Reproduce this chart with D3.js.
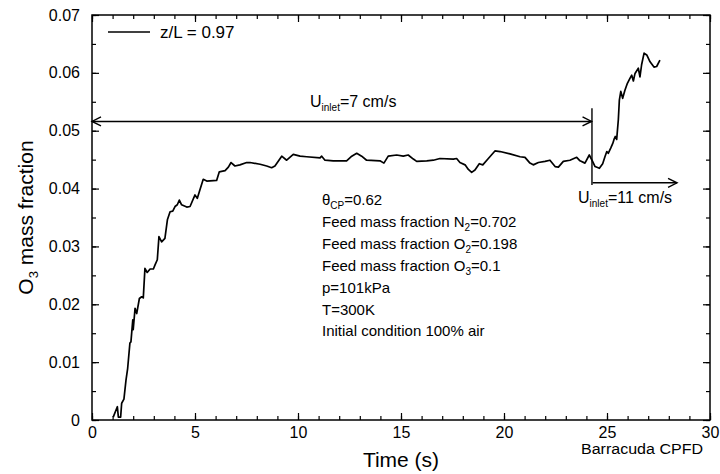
<!DOCTYPE html>
<html>
<head>
<meta charset="utf-8">
<script src="https://cdn.jsdelivr.net/npm/d3@7"></script>
<style>
  body { margin: 0; background: #fff; }
  svg { font-family: 'Liberation Sans', Arial, Helvetica, sans-serif; }
</style>
</head>
<body>
<div id="chart"></div>
<script>
// Time series (s, O3 mass fraction)
const times = [1.03, 1.23, 1.28, 1.39, 1.44, 1.55, 1.65, 1.73, 1.84, 1.89, 1.98, 2.00, 2.09, 2.17, 2.30,
  2.41, 2.49, 2.57, 2.68, 2.82, 2.98, 3.06, 3.17, 3.25, 3.38, 3.54, 3.66, 3.79, 3.92, 4.03,
  4.14, 4.24, 4.35, 4.60, 4.76, 5.00, 5.11, 5.24, 5.40, 5.57, 6.05, 6.18, 6.46, 6.62, 6.75,
  6.94, 7.18, 7.51, 7.67, 8.16, 8.48, 8.72, 8.88, 9.21, 9.45, 9.77, 10.10, 10.42, 11.07, 11.15,
  11.31, 11.71, 12.36, 12.61, 12.85, 13.09, 13.33, 13.98, 14.17, 14.38, 14.79, 15.11, 15.35, 15.60, 15.76,
  16.25, 16.57, 16.89, 17.54, 17.70, 17.86, 18.11, 18.27, 18.43, 18.59, 18.80, 18.97, 19.24, 19.56, 19.81,
  20.29, 20.78, 21.02, 21.26, 21.42, 21.67, 21.99, 22.23, 22.48, 22.64, 22.88, 23.20, 23.53, 23.69, 23.93,
  24.14, 24.30, 24.42, 24.63, 24.79, 24.90, 24.99, 25.06, 25.18, 25.28, 25.34, 25.40, 25.47, 25.55, 25.60,
  25.67, 25.76, 25.87, 25.99, 26.12, 26.20, 26.28, 26.36, 26.52, 26.60, 26.68, 26.80, 26.93, 27.09, 27.28,
  27.41, 27.57];
const o3 = [0.0005, 0.0023, 0.0005, 0.0005, 0.0029, 0.0036, 0.0069, 0.0089, 0.0133, 0.0135, 0.0173, 0.0156, 0.0193, 0.0184, 0.0210,
  0.0213, 0.0211, 0.0262, 0.0255, 0.0261, 0.0261, 0.0268, 0.0277, 0.0317, 0.0308, 0.0314, 0.0346, 0.0360, 0.0361, 0.0369,
  0.0372, 0.0380, 0.0372, 0.0368, 0.0369, 0.0389, 0.0383, 0.0398, 0.0416, 0.0413, 0.0414, 0.0429, 0.0431, 0.0437, 0.0445,
  0.0439, 0.0441, 0.0445, 0.0445, 0.0442, 0.0439, 0.0436, 0.0439, 0.0456, 0.0449, 0.0459, 0.0456, 0.0455, 0.0453, 0.0456,
  0.0449, 0.0448, 0.0448, 0.0456, 0.0461, 0.0456, 0.0449, 0.0448, 0.0444, 0.0456, 0.0458, 0.0456, 0.0458, 0.0451, 0.0447,
  0.0448, 0.0449, 0.0452, 0.0451, 0.0452, 0.0445, 0.0441, 0.0433, 0.0428, 0.0432, 0.0443, 0.0441, 0.0452, 0.0465, 0.0464,
  0.0460, 0.0455, 0.0454, 0.0444, 0.0441, 0.0445, 0.0447, 0.0449, 0.0438, 0.0437, 0.0447, 0.0449, 0.0454, 0.0448, 0.0444,
  0.0458, 0.0447, 0.0438, 0.0435, 0.0443, 0.0455, 0.0464, 0.0461, 0.0470, 0.0478, 0.0485, 0.0490, 0.0485, 0.0519, 0.0553,
  0.0568, 0.0556, 0.0570, 0.0582, 0.0591, 0.0596, 0.0586, 0.0599, 0.0608, 0.0593, 0.0614, 0.0634, 0.0631, 0.0619, 0.0610,
  0.0611, 0.0622];

// Axis ticks
const xTicks = [0, 5, 10, 15, 20, 25, 30];
const xMinor = d3.range(0, 31, 1);
const yTicks = [0, 0.01, 0.02, 0.03, 0.04, 0.05, 0.06, 0.07];
const yMinor = d3.range(0, 0.0701, 0.005);

// Annotations
const seriesName = 'z/L = 0.97';
const switchTime = 24.27;
const arrow7 = { t0: 0, t1: 24.25, v: 0.0516 };
const arrow11 = { t0: 24.3, t1: 28.4, v: 0.041 };
const switchLine = { v0: 0.0539, v1: 0.0406 };
const conditions = [
  ['θ', 'CP', '=0.62'],
  ['Feed mass fraction N', '2', '=0.702'],
  ['Feed mass fraction O', '2', '=0.198'],
  ['Feed mass fraction O', '3', '=0.1'],
  ['p=101kPa', '', ''],
  ['T=300K', '', ''],
  ['Initial condition 100% air', '', '']
];

//Chart dimensions
const margin = { top: 15, bot: 54, left: 92, right: 10 };
const width = 720 - margin.left - margin.right;
const height = 474 - margin.top - margin.bot;

// Scale
const xScale = d3.scaleLinear().domain([0, 30]).range([0, width]);
const yScale = d3.scaleLinear().domain([0, 0.07]).range([height, 0]);

const svg = d3.select('#chart').append('svg')
  .attr('width', 720)
  .attr('height', 474);

const defs = svg.append('defs');
defs.append('marker')
  .attr('id', 'head')
  .attr('viewBox', '-1 -6 12 12')
  .attr('refX', 9)
  .attr('refY', 0)
  .attr('markerWidth', 12)
  .attr('markerHeight', 12)
  .attr('markerUnits', 'userSpaceOnUse')
  .attr('orient', 'auto-start-reverse')
  .append('path')
  .attr('d', 'M0,-4.5L9,0L0,4.5')
  .attr('fill', 'none')
  .attr('stroke', '#000')
  .attr('stroke-width', 1.4);

const g = svg.append('g')
  .attr('transform', `translate(${margin.left}, ${margin.top})`);

// Axes (ticks pointing inward on all four sides)
const noLabel = () => '';
const yFormat = d => d === 0 ? '0' : d3.format('.2f')(d);

function styleAxis(sel) {
  sel.select('.domain').remove();
  sel.selectAll('line').attr('stroke', '#000').attr('stroke-width', 1.2);
  sel.selectAll('text').attr('fill', '#000').style('font-size', '16px');
}

g.append('g')
  .attr('transform', `translate(0, ${height})`)
  .call(d3.axisBottom(xScale).tickValues(xMinor).tickSizeInner(-4).tickSizeOuter(0).tickFormat(noLabel))
  .call(styleAxis);
g.append('g')
  .attr('transform', `translate(0, ${height})`)
  .call(d3.axisBottom(xScale).tickValues(xTicks).tickSizeInner(-7).tickSizeOuter(0).tickPadding(7).tickFormat(d3.format('d')))
  .call(styleAxis);
g.append('g')
  .call(d3.axisTop(xScale).tickValues(xMinor).tickSizeInner(-4).tickSizeOuter(0).tickFormat(noLabel))
  .call(styleAxis);
g.append('g')
  .call(d3.axisTop(xScale).tickValues(xTicks).tickSizeInner(-7).tickSizeOuter(0).tickFormat(noLabel))
  .call(styleAxis);

g.append('g')
  .call(d3.axisLeft(yScale).tickValues(yMinor).tickSizeInner(-4).tickSizeOuter(0).tickFormat(noLabel))
  .call(styleAxis);
g.append('g')
  .call(d3.axisLeft(yScale).tickValues(yTicks).tickSizeInner(-7).tickSizeOuter(0).tickPadding(12).tickFormat(yFormat))
  .call(styleAxis);
g.append('g')
  .attr('transform', `translate(${width}, 0)`)
  .call(d3.axisRight(yScale).tickValues(yMinor).tickSizeInner(-4).tickSizeOuter(0).tickFormat(noLabel))
  .call(styleAxis);
g.append('g')
  .attr('transform', `translate(${width}, 0)`)
  .call(d3.axisRight(yScale).tickValues(yTicks).tickSizeInner(-7).tickSizeOuter(0).tickFormat(noLabel))
  .call(styleAxis);

// Frame
g.append('rect')
  .attr('width', width)
  .attr('height', height)
  .attr('fill', 'none')
  .attr('stroke', '#000')
  .attr('stroke-width', 1.5);

// Axis titles
svg.append('text')
  .attr('x', margin.left + width / 2)
  .attr('y', 467)
  .attr('text-anchor', 'middle')
  .style('font-size', '21px')
  .text('Time (s)');

const yTitle = svg.append('text')
  .attr('transform', `translate(33, ${margin.top + height / 2}) rotate(-90)`)
  .attr('text-anchor', 'middle')
  .style('font-size', '21px');
yTitle.append('tspan').text('O');
yTitle.append('tspan').attr('dy', 5).style('font-size', '13px').text('3');
yTitle.append('tspan').attr('dy', -5).text(' mass fraction');

svg.append('text')
  .attr('x', 703)
  .attr('y', 454)
  .attr('text-anchor', 'end')
  .attr('textLength', 122)
  .attr('lengthAdjust', 'spacingAndGlyphs')
  .style('font-size', '14px')
  .text('Barracuda CPFD');

// Series line
const points = times.map((t, i) => ({ t: t, v: o3[i] }));
const line = d3.line()
  .x(d => xScale(d.t))
  .y(d => yScale(d.v));

g.append('path')
  .datum(points)
  .attr('d', line)
  .attr('fill', 'none')
  .attr('stroke', '#000')
  .attr('stroke-width', 1.7)
  .attr('stroke-linejoin', 'round');

// Legend
const legend = g.append('g').attr('transform', 'translate(16, 17)');
legend.append('line')
  .attr('x1', 0).attr('x2', 42)
  .attr('stroke', '#000').attr('stroke-width', 1.5);
legend.append('text')
  .attr('x', 52)
  .attr('y', 6)
  .style('font-size', '17px')
  .text(seriesName);

// Inlet velocity annotations
g.append('line')
  .attr('x1', xScale(arrow7.t0)).attr('x2', xScale(arrow7.t1))
  .attr('y1', yScale(arrow7.v)).attr('y2', yScale(arrow7.v))
  .attr('stroke', '#000').attr('stroke-width', 1.4)
  .attr('marker-start', 'url(#head)')
  .attr('marker-end', 'url(#head)');

g.append('line')
  .attr('x1', xScale(switchTime)).attr('x2', xScale(switchTime))
  .attr('y1', yScale(switchLine.v0)).attr('y2', yScale(switchLine.v1))
  .attr('stroke', '#000').attr('stroke-width', 1.4);

g.append('line')
  .attr('x1', xScale(arrow11.t0)).attr('x2', xScale(arrow11.t1))
  .attr('y1', yScale(arrow11.v)).attr('y2', yScale(arrow11.v))
  .attr('stroke', '#000').attr('stroke-width', 1.4)
  .attr('marker-end', 'url(#head)');

function inletLabel(x, y, rest) {
  const t = g.append('text')
    .attr('x', x)
    .attr('y', y)
    .style('font-size', '16px');
  t.append('tspan').text('U');
  t.append('tspan').attr('dy', 4).style('font-size', '10px').text('inlet');
  t.append('tspan').attr('dy', -4).text(rest);
}
inletLabel(310 - margin.left, 107 - margin.top, '=7 cm/s');
inletLabel(578 - margin.left, 203 - margin.top, '=11 cm/s');

// Operating conditions
const cond = g.append('g').attr('transform', `translate(${322 - margin.left}, ${205 - margin.top})`);
conditions.forEach((c, i) => {
  const t = cond.append('text')
    .attr('y', i * 21.9)
    .style('font-size', '15px');
  t.append('tspan').text(c[0]);
  if (c[1]) {
    t.append('tspan').attr('dy', 4).style('font-size', '10px').text(c[1]);
    t.append('tspan').attr('dy', -4).text(c[2]);
  }
});
</script>
</body>
</html>
